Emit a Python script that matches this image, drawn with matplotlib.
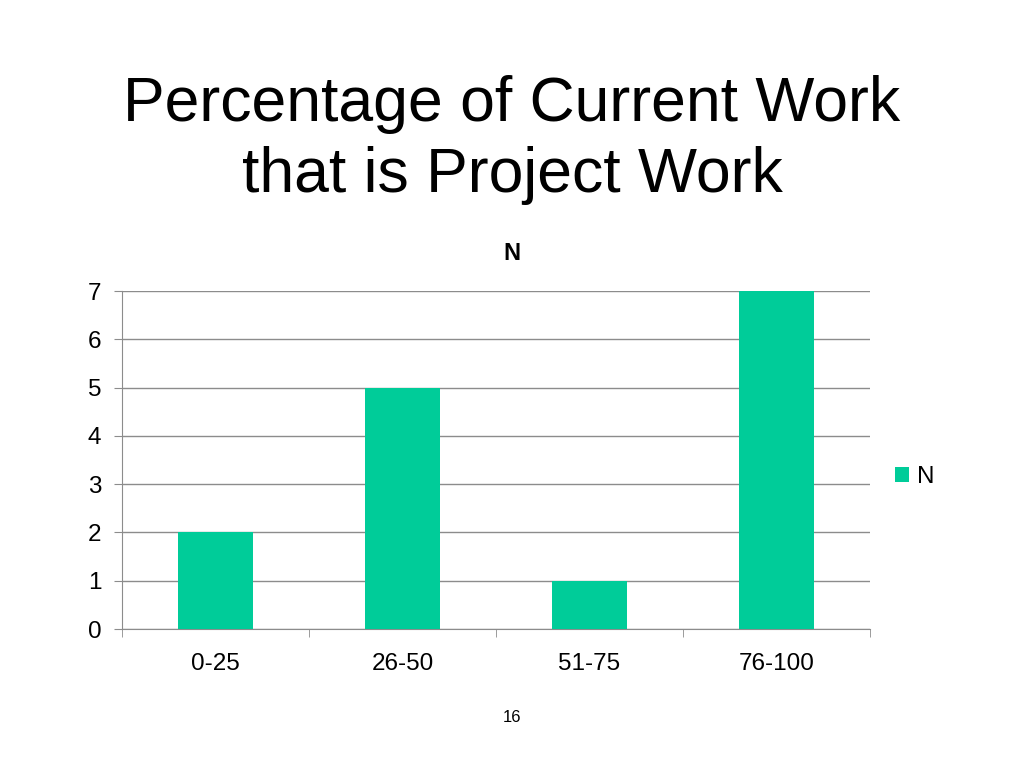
import matplotlib.pyplot as plt
import numpy as np

plt.rcParams['font.family'] = ['Liberation Sans', 'DejaVu Sans']

# Input data
categories = ['0-25', '26-50', '51-75', '76-100']
counts = [2, 5, 1, 7]
series_name = 'N'
bar_color = '#00CC99'
grid_color = '#8C8C8C'

fig = plt.figure(figsize=(10.24, 7.68), dpi=100)
ax = fig.add_axes([122 / 1024, 1 - 629 / 768, 748 / 1024, 338 / 768])

x = np.arange(len(categories))
ax.bar(x, counts, width=0.4, color=bar_color, label=series_name, zorder=3)

ax.set_xlim(-0.5, len(categories) - 0.5)
ax.set_ylim(0, 7)
ax.set_yticks(range(0, 8))
ax.yaxis.grid(True, color=grid_color, linewidth=1, zorder=0)

# category labels centred, tick marks at boundaries
ax.set_xticks(x)
ax.set_xticklabels(categories, fontsize=17.5)
ax.set_xticks(np.arange(-0.5, len(categories)), minor=True)
ax.tick_params(axis='x', which='major', length=0, pad=17)
ax.tick_params(axis='x', which='minor', length=6, direction='out', color=grid_color)
ax.tick_params(axis='y', length=6, direction='out', color=grid_color, labelsize=17.5, pad=9)

for side in ['top', 'right']:
    ax.spines[side].set_visible(False)
ax.spines['left'].set_color(grid_color)
ax.spines['bottom'].set_color(grid_color)

fig.text(0.5, 1 - 253 / 768, 'N', ha='center', va='center', fontsize=17, weight='bold')

ax.legend(loc='center left', bbox_to_anchor=(1.004, 0.45), frameon=False,
          fontsize=17.5, handlelength=0.6, handleheight=0.6, handletextpad=0.3)

fig.text(0.5, 1 - 140 / 768, 'Percentage of Current Work\nthat is Project Work',
         ha='center', va='center', fontsize=45, linespacing=1.28)
fig.text(0.5, 1 - 718 / 768, '16', ha='center', va='center', fontsize=12)

fig.savefig('out.png', dpi=100)
